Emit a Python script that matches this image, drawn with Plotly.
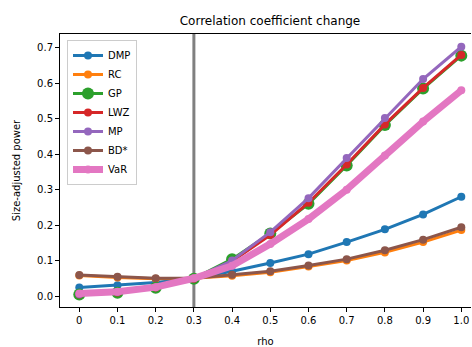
import plotly.graph_objects as go

rho = [0.0, 0.1, 0.2, 0.3, 0.4, 0.5, 0.6, 0.7, 0.8, 0.9, 1.0]
tick_labels = ["0", "0.1", "0.2", "0.3", "0.4", "0.5", "0.6", "0.7", "0.8", "0.9", "1.0"]

dmp = [0.024, 0.030, 0.038, 0.050, 0.070, 0.093, 0.118, 0.152, 0.188, 0.230, 0.280]
rc = [0.058, 0.052, 0.049, 0.050, 0.057, 0.067, 0.083, 0.100, 0.123, 0.152, 0.186]
gp = [0.004, 0.009, 0.023, 0.049, 0.104, 0.176, 0.260, 0.368, 0.482, 0.585, 0.678]
lwz = [0.004, 0.010, 0.024, 0.049, 0.098, 0.172, 0.263, 0.371, 0.484, 0.587, 0.680]
mp = [0.005, 0.011, 0.025, 0.050, 0.100, 0.180, 0.276, 0.389, 0.502, 0.612, 0.703]
bd = [0.059, 0.054, 0.050, 0.050, 0.060, 0.070, 0.086, 0.104, 0.129, 0.159, 0.194]
var = [0.007, 0.012, 0.025, 0.050, 0.085, 0.147, 0.217, 0.300, 0.396, 0.492, 0.580]

vline_x = 0.3

series = [
    ("DMP", dmp, "#1f77b4", 3, 8),
    ("RC", rc, "#ff7f0e", 3, 8),
    ("GP", gp, "#2ca02c", 3, 12),
    ("LWZ", lwz, "#d62728", 3, 8),
    ("MP", mp, "#9467bd", 3, 8),
    ("BD*", bd, "#8c564b", 3, 8),
    ("VaR", var, "#e377c2", 7, 8),
]

fig = go.Figure()
for name, vals, color, lw, ms in series:
    fig.add_trace(go.Scatter(
        x=rho, y=vals, name=name, mode="lines+markers",
        line=dict(color=color, width=lw),
        marker=dict(color=color, size=ms),
    ))

fig.add_shape(type="line", x0=vline_x, x1=vline_x, xref="x", y0=0, y1=1, yref="paper",
              line=dict(color="#808080", width=3), layer="below")

W, H = 472, 347
font = "DejaVu Sans"
fig.update_layout(
    width=W, height=H,
    margin=dict(l=60, r=1, t=34, b=40),
    paper_bgcolor="white", plot_bgcolor="white",
    font=dict(family=font, size=10, color="black"),
    title=dict(text="Correlation coefficient change", xref="container", x=270/W,
               xanchor="center", yref="container", y=1-21/H, yanchor="middle",
               font=dict(size=12, color="black")),
    xaxis=dict(range=[-0.0505, 1.0254], tickvals=rho, ticktext=tick_labels,
               showline=True, linecolor="black", linewidth=1, mirror=True,
               ticks="outside", ticklen=4, tickcolor="black", showgrid=False, zeroline=False,
               title=dict(text="rho", standoff=12, font=dict(size=10))),
    yaxis=dict(range=[-0.031, 0.739], tickvals=[0, 0.1, 0.2, 0.3, 0.4, 0.5, 0.6, 0.7],
               tickformat=".1f",
               showline=True, linecolor="black", linewidth=1, mirror=False,
               ticks="outside", ticklen=4, tickcolor="black", showgrid=False, zeroline=False,
               title=dict(text="Size-adjusted power", standoff=14, font=dict(size=10))),
    legend=dict(x=0.017, y=0.978, xanchor="left", yanchor="top",
                bgcolor="white", bordercolor="#cccccc", borderwidth=1,
                font=dict(size=10), tracegroupgap=0, itemwidth=30),
    showlegend=True,
)

fig.write_html(
    "out.html",
    config={"displayModeBar": False},
    post_script="document.body.style.margin='0';document.body.style.overflow='hidden';",
)
